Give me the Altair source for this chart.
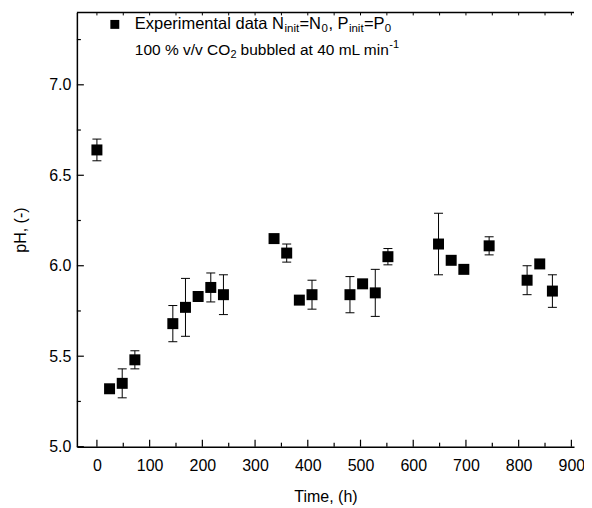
import altair as alt
import pandas as pd

# ---- data ----
time_h = [0, 24, 48, 72, 144, 168, 192, 216, 240, 336, 360, 384, 408,
          480, 504, 528, 552, 648, 672, 696, 744, 816, 840, 864]
ph = [6.64, 5.32, 5.35, 5.48, 5.68, 5.77, 5.83, 5.88, 5.84, 6.15, 6.07, 5.81, 5.84,
      5.84, 5.90, 5.85, 6.05, 6.12, 6.03, 5.98, 6.11, 5.92, 6.01, 5.86]
ph_err = [0.06, 0, 0.08, 0.05, 0.10, 0.16, 0, 0.08, 0.11, 0, 0.05, 0, 0.08,
          0.10, 0, 0.13, 0.045, 0.17, 0, 0, 0.05, 0.08, 0, 0.09]

x_major = [0, 100, 200, 300, 400, 500, 600, 700, 800, 900]
x_minor = [50, 150, 250, 350, 450, 550, 650, 750, 850]
y_major = [5.0, 5.5, 6.0, 6.5, 7.0]
y_minor = [5.25, 5.75, 6.25, 6.75, 7.25]
top_ticks = x_major + x_minor

# legend text segments: (text, x, y, fontsize)
legend_segments = [
    ("Experimental data N", 58, 12, 16.5),
    ("init", 208, 17, 11.5),
    ("=N", 223, 12, 16.5),
    ("0", 245, 17, 11.5),
    (", P", 252, 12, 16.5),
    ("init", 272.5, 17, 11.5),
    ("=P", 287.5, 12, 16.5),
    ("0", 308.5, 17, 11.5),
    ("100 % v/v CO", 58, 38, 15.5),
    ("2", 154, 43, 11),
    ("bubbled at 40 mL min", 164, 38, 15.5),
    ("-1", 313, 33, 11),
]

W, H = 498, 435
XDOM = [-38, 905]
YDOM = [5.0, 7.4]
FONT = "Liberation Sans"

df = pd.DataFrame({"t": time_h, "ph": ph, "err": ph_err})
df["lo"] = df["ph"] - df["err"]
df["hi"] = df["ph"] + df["err"]
dfe = df[df["err"] > 0]

xs = alt.Scale(domain=XDOM, nice=False, zero=False)
ys = alt.Scale(domain=YDOM, nice=False, zero=False)

x_axis = alt.Axis(title="Time, (h)", values=x_major, format="d", labelPadding=11, titlePadding=15)
y_axis = alt.Axis(title="pH, (-)", values=y_major, format=".1f", labelPadding=6, titlePadding=20)

points = alt.Chart(df).mark_square(size=121, color="black", opacity=1).encode(
    x=alt.X("t:Q", scale=xs, axis=x_axis),
    y=alt.Y("ph:Q", scale=ys, axis=y_axis),
)

err_rule = alt.Chart(dfe).mark_rule(color="black", strokeWidth=1).encode(
    x=alt.X("t:Q", scale=xs), y=alt.Y("lo:Q", scale=ys), y2="hi:Q"
)
cap_lo = alt.Chart(dfe).mark_rule(color="black", strokeWidth=1, xOffset=-4.5, x2Offset=4.5).encode(
    x=alt.X("t:Q", scale=xs), x2="t:Q", y=alt.Y("lo:Q", scale=ys)
)
cap_hi = alt.Chart(dfe).mark_rule(color="black", strokeWidth=1, xOffset=-4.5, x2Offset=4.5).encode(
    x=alt.X("t:Q", scale=xs), x2="t:Q", y=alt.Y("hi:Q", scale=ys)
)

def xticks(vals, length):
    return alt.Chart(pd.DataFrame({"v": vals})).mark_rule(color="black", strokeWidth=1.2).encode(
        x=alt.X("v:Q", scale=xs), y=alt.value(H), y2=alt.value(H - length)
    )

def yticks(vals, length):
    return alt.Chart(pd.DataFrame({"v": vals})).mark_rule(color="black", strokeWidth=1.2).encode(
        y=alt.Y("v:Q", scale=ys), x=alt.value(0), x2=alt.value(length)
    )

top_t = alt.Chart(pd.DataFrame({"v": top_ticks})).mark_rule(color="black", strokeWidth=1).encode(
    x=alt.X("v:Q", scale=xs), y=alt.value(0), y2=alt.value(3)
)

top_line = alt.Chart(pd.DataFrame({"a": [0]})).mark_rule(color="black", strokeWidth=1.5).encode(
    x=alt.value(0), x2=alt.value(W), y=alt.value(0)
)

leg_marker = alt.Chart(pd.DataFrame({"a": [0]})).mark_square(size=80, color="black", opacity=1).encode(
    x=alt.value(38), y=alt.value(12)
)

text_layers = []
for txt, px, py, fs in legend_segments:
    text_layers.append(
        alt.Chart(pd.DataFrame({"a": [0]})).mark_text(
            align="left", baseline="middle", font=FONT, fontSize=fs, color="black"
        ).encode(x=alt.value(px), y=alt.value(py), text=alt.value(txt))
    )

chart = alt.layer(
    err_rule, cap_lo, cap_hi, points,
    xticks(x_major, 7), xticks(x_minor, 4),
    yticks(y_major, 7), yticks(y_minor, 4),
    top_t, top_line, leg_marker, *text_layers
).properties(
    width=W, height=H,
    autosize=alt.AutoSizeParams(type="none"),
    padding={"left": 69, "top": 4, "right": 10, "bottom": 60},
).configure_view(stroke=None).configure_axis(
    grid=False, ticks=False, domainColor="black", domainWidth=1.5,
    labelFont=FONT, labelFontSize=16, labelColor="black",
    titleFont=FONT, titleFontSize=16, titleFontWeight="normal", titleColor="black",
)

chart.save("out.html", embed_options={"renderer": "svg", "actions": False})
